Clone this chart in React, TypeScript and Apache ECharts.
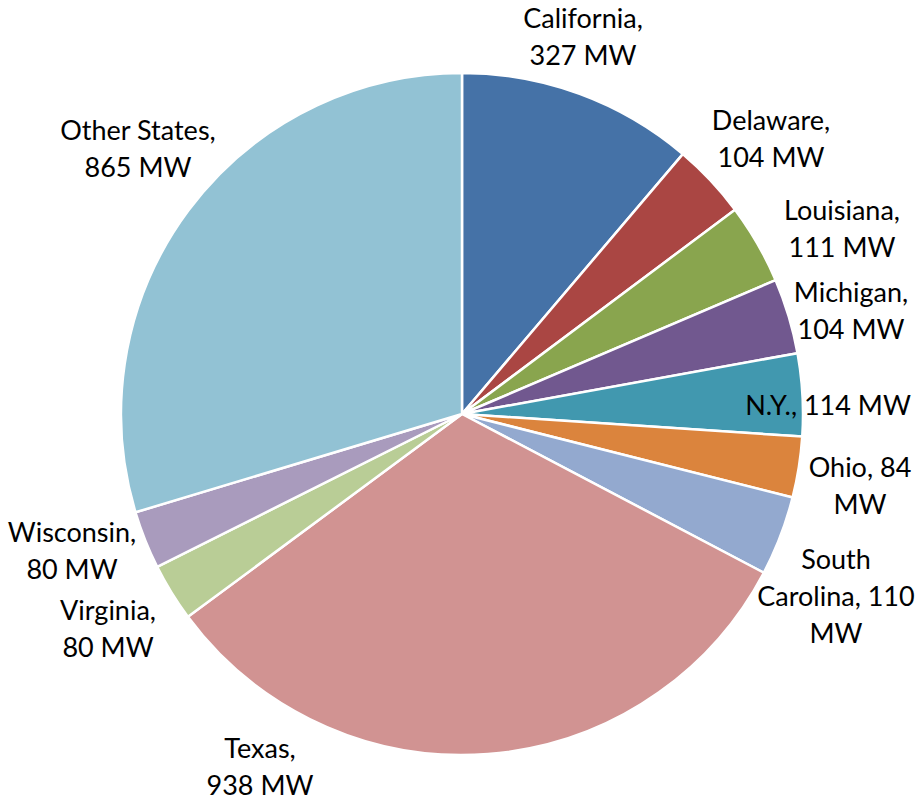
import React, { useEffect, useRef } from "react";
import * as echarts from "echarts";

const states = [
  "California",
  "Delaware",
  "Louisiana",
  "Michigan",
  "N.Y.",
  "Ohio",
  "South Carolina",
  "Texas",
  "Virginia",
  "Wisconsin",
  "Other States",
];
const capacityMW = [327, 104, 111, 104, 114, 84, 110, 938, 80, 80, 865];
const colors = [
  "#4572A7",
  "#AA4643",
  "#89A54E",
  "#71588F",
  "#4198AF",
  "#DB843D",
  "#93A9CF",
  "#D19392",
  "#B9CD96",
  "#A99BBD",
  "#92C2D4",
];
// label line-wrapping patterns ({n} = name, {v} = value)
const labelPatterns = [
  "{n},\n{v} MW",
  "{n},\n{v} MW",
  "{n},\n{v} MW",
  "{n},\n{v} MW",
  "{n}, {v} MW",
  "{n}, {v}\nMW",
  "South\nCarolina, {v}\nMW",
  "{n},\n{v} MW",
  "{n},\n{v} MW",
  "{n},\n{v} MW",
  "{n},\n{v} MW",
];
// label block centres (px)
const labelPos: [number, number][] = [
  [583, 36],
  [771, 138],
  [842, 228],
  [851, 310],
  [828, 404],
  [860, 485],
  [836, 595],
  [260, 766],
  [108, 628],
  [72, 550],
  [138, 148],
];

export default function App() {
  const ref = useRef<HTMLDivElement>(null);
  useEffect(() => {
    document.body.style.margin = "0";
    const chart = echarts.init(ref.current!, null, { renderer: "svg" });
    chart.setOption({
      animation: false,
      backgroundColor: "#ffffff",
      series: [
        {
          type: "pie",
          center: [462, 414],
          radius: [0, 341],
          startAngle: 90,
          clockwise: true,
          avoidLabelOverlap: false,
          data: states.map((s, i) => ({
            name: s,
            value: capacityMW[i],
            itemStyle: { color: colors[i] },
          })),
          itemStyle: { borderColor: "#ffffff", borderWidth: 2.5 },
          label: {
            show: true,
            position: "outside",
            fontFamily: "Lato, 'Open Sans', sans-serif",
            fontSize: 27,
            lineHeight: 37,
            color: "#000000",
            align: "center",
            formatter: (p: any) =>
              labelPatterns[p.dataIndex]
                .replace("{n}", p.name)
                .replace("{v}", String(p.value)),
          },
          labelLine: { show: false },
          labelLayout: (p: any) => ({
            x: labelPos[p.dataIndex][0],
            y: labelPos[p.dataIndex][1],
            align: "center",
            verticalAlign: "middle",
          }),
        },
      ],
    });
    return () => chart.dispose();
  }, []);
  return <div ref={ref} style={{ width: 919, height: 804 }} />;
}
